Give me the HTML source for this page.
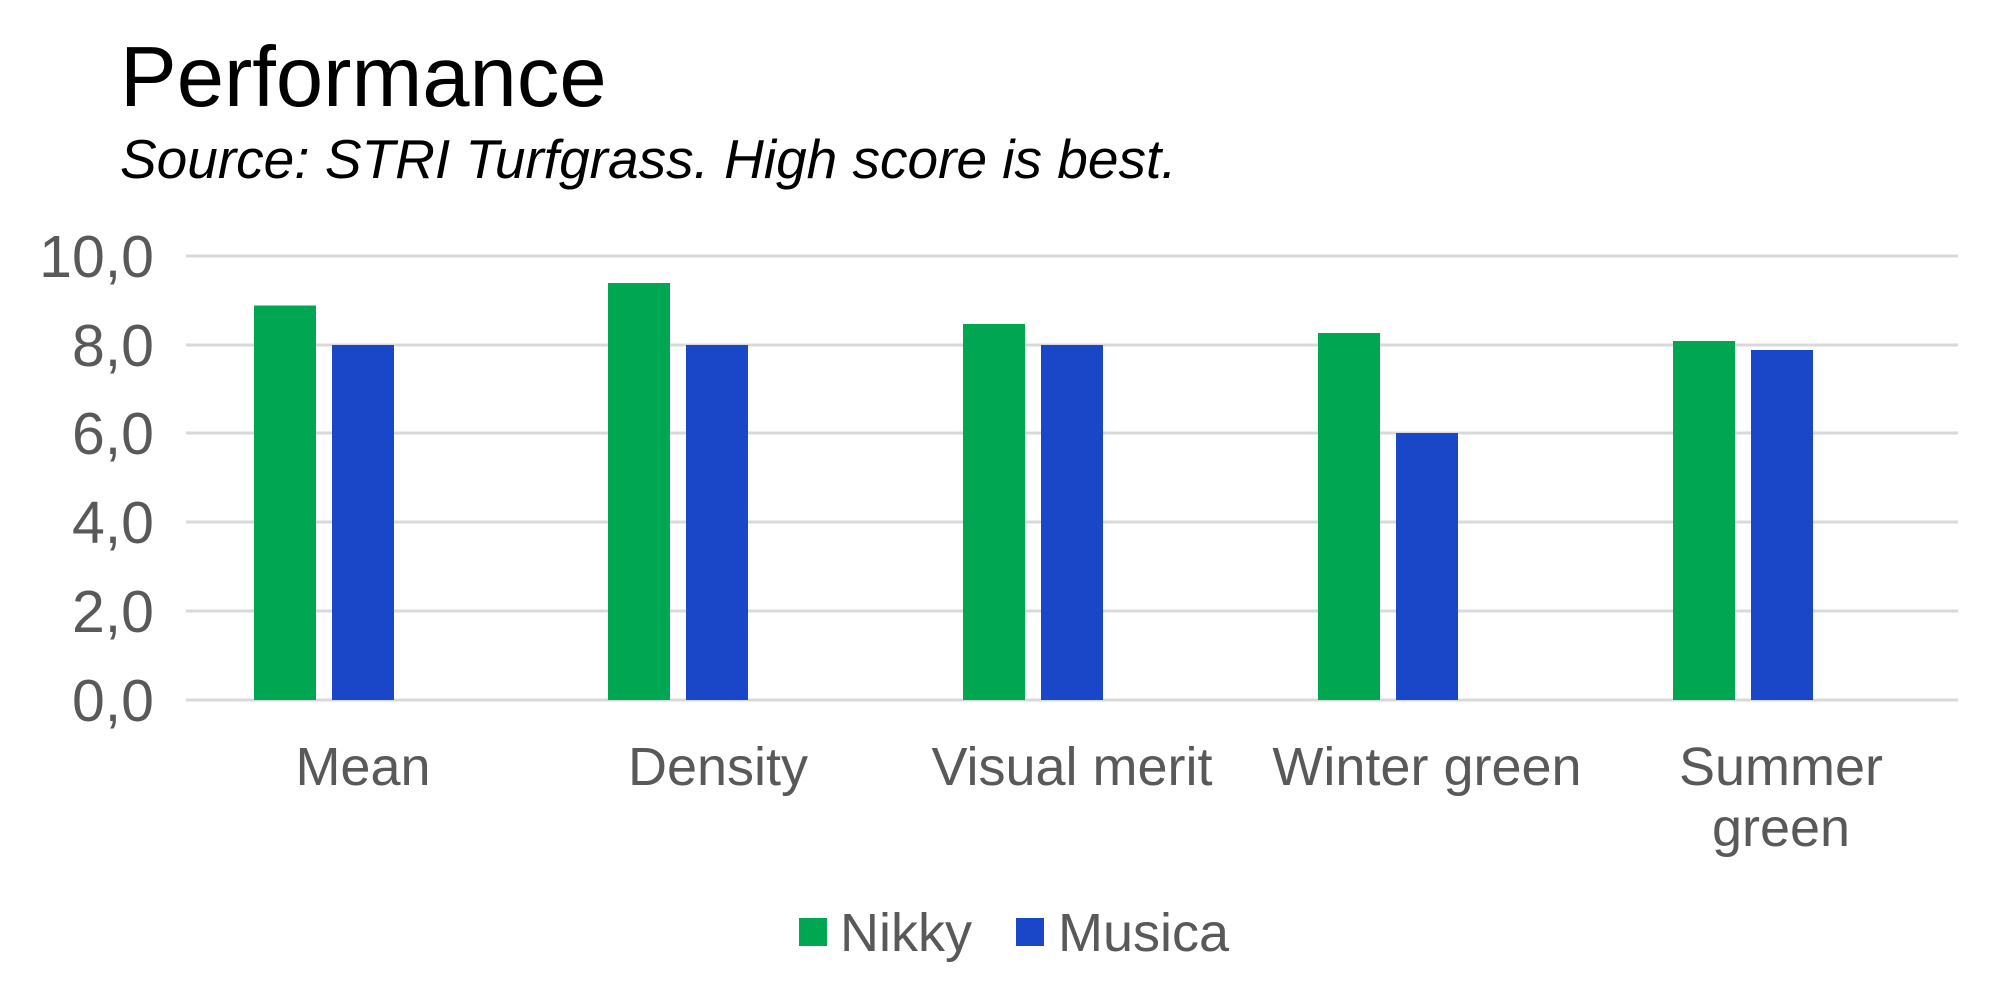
<!DOCTYPE html>
<html><head><meta charset="utf-8"><style>
html,body{margin:0;padding:0;background:#fff;}
svg{display:block;}
</style></head><body>
<svg width="2000" height="1000" xmlns="http://www.w3.org/2000/svg" font-family="'Liberation Sans', Arial, sans-serif">
<text x="120" y="106" font-size="85" fill="#000">Performance</text>
<text x="120" y="178" font-size="55" font-style="italic" fill="#000">Source: STRI Turfgrass. High score is best.</text>
<g stroke="#d9d9d9" stroke-width="3">
<line x1="186" x2="1958" y1="256" y2="256"/>
<line x1="186" x2="1958" y1="345" y2="345"/>
<line x1="186" x2="1958" y1="433" y2="433"/>
<line x1="186" x2="1958" y1="522" y2="522"/>
<line x1="186" x2="1958" y1="611" y2="611"/>
<line x1="186" x2="1958" y1="700" y2="700"/>
</g>
<g font-size="59" fill="#595959" text-anchor="end">
<text x="154" y="277">10,0</text>
<text x="154" y="366">8,0</text>
<text x="154" y="454">6,0</text>
<text x="154" y="543">4,0</text>
<text x="154" y="632">2,0</text>
<text x="154" y="721">0,0</text>
</g>
<g>
<rect x="254" y="305.5" width="62" height="394.5" fill="#00A651"/>
<rect x="332" y="345" width="62" height="355" fill="#1A47C8"/>
<rect x="608" y="283" width="62" height="417" fill="#00A651"/>
<rect x="686" y="345" width="62" height="355" fill="#1A47C8"/>
<rect x="963" y="324" width="62" height="376" fill="#00A651"/>
<rect x="1041" y="345" width="62" height="355" fill="#1A47C8"/>
<rect x="1318" y="333" width="62" height="367" fill="#00A651"/>
<rect x="1396" y="433" width="62" height="267" fill="#1A47C8"/>
<rect x="1673" y="341" width="62" height="359" fill="#00A651"/>
<rect x="1751" y="350" width="62" height="350" fill="#1A47C8"/>
</g>
<g font-size="54" fill="#595959" text-anchor="middle">
<text x="363" y="785">Mean</text>
<text x="718" y="785">Density</text>
<text x="1072" y="785">Visual merit</text>
<text x="1427" y="785">Winter green</text>
<text x="1781" y="785">Summer</text>
<text x="1781" y="846">green</text>
</g>
<rect x="799" y="918" width="28" height="28" fill="#00A651"/>
<text x="840" y="951" font-size="54" fill="#595959">Nikky</text>
<rect x="1016" y="918" width="28" height="28" fill="#1A47C8"/>
<text x="1058" y="951" font-size="54" fill="#595959">Musica</text>
</svg>
</body></html>
